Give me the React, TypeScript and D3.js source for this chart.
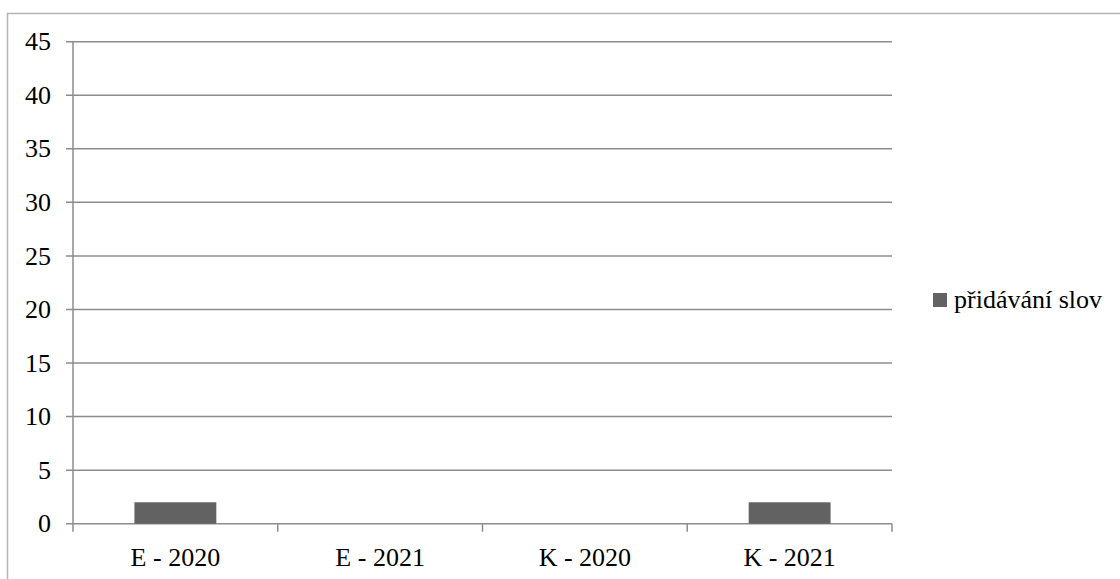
import React from "react";
import * as d3 from "d3";

const categories = ["E - 2020", "E - 2021", "K - 2020", "K - 2021"];
const values = [2, 0, 0, 2];
const seriesName = "přidávání slov";
const yTicks = [0, 5, 10, 15, 20, 25, 30, 35, 40, 45];

export default function App() {
  const W = 1120, H = 579;
  const left = 73, right = 892, top = 41.7, bottom = 523.7;
  const x = d3.scaleBand<string>().domain(categories).range([left, right]).paddingInner(0).paddingOuter(0);
  const y = d3.scaleLinear().domain([0, 45]).range([bottom, top]);
  const bw = x.bandwidth() * 0.4;
  const font = "Liberation Serif";
  const grid = "#8c8c8c";
  const boundaries = categories.map((c) => x(c) as number).concat([right]);
  const ts = { fontFamily: font, fontSize: "26px" } as React.CSSProperties;
  return (
    <svg width={W} height={H} style={{ position: "absolute", left: 0, top: 0 }}>
      <rect x={0} y={0} width={W} height={H} fill="#fff" />
      <path d={`M7.5,${H + 5}V13.5H${W + 5}`} fill="none" stroke="#b5b5b5" strokeWidth={1.5} />
      {yTicks.map((t) => (
        <g key={t}>
          <line x1={66} x2={right} y1={y(t)} y2={y(t)} stroke={grid} strokeWidth={1.5} />
          <text x={51} y={y(t)} dy="0.33em" textAnchor="end" style={ts} fill="#000">{t}</text>
        </g>
      ))}
      <line x1={left} x2={left} y1={top} y2={bottom + 8} stroke={grid} strokeWidth={1.5} />
      {boundaries.slice(1).map((b, i) => (
        <line key={i} x1={b} x2={b} y1={bottom} y2={bottom + 8} stroke={grid} strokeWidth={1.5} />
      ))}
      {categories.map((c, i) => {
        const cx = (x(c) as number) + x.bandwidth() / 2;
        return (
          <g key={c}>
            {values[i] > 0 && (
              <rect x={cx - bw / 2} y={y(values[i])} width={bw} height={bottom - y(values[i])} fill="#626262" />
            )}
            <text x={cx} y={566} textAnchor="middle" style={ts} fill="#000">{c}</text>
          </g>
        );
      })}
      <rect x={933} y={293} width={14} height={14} fill="#626262" />
      <text x={954} y={308} style={ts} fill="#000">{seriesName}</text>
    </svg>
  );
}
